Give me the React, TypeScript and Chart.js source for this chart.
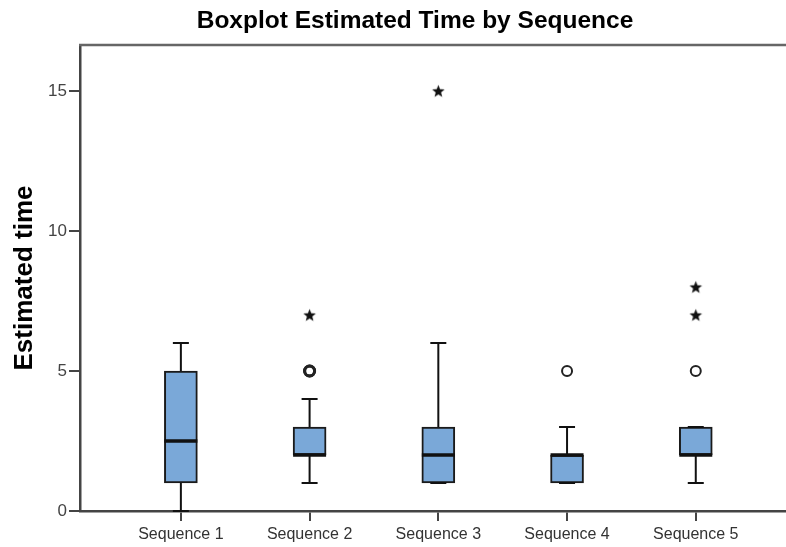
import { useEffect, useRef } from "react";
import { Chart, registerables } from "chart.js";

Chart.register(...registerables);

const categories = ["Sequence 1", "Sequence 2", "Sequence 3", "Sequence 4", "Sequence 5"];
const whiskerLow = [0, 1, 1, 1, 1];
const q1 = [1, 2, 1, 1, 2];
const medians = [2.5, 2, 2, 2, 2];
const q3 = [5, 3, 3, 2, 3];
const whiskerHigh = [6, 4, 6, 3, 3];
const circleOutliers: number[][] = [[], [5, 5], [], [5], [5]];
const starOutliers: number[][] = [[], [7], [15], [], [7, 8]];
const yTicks = [0, 5, 10, 15];
const chartTitle = "Boxplot Estimated Time by Sequence";
const yAxisTitle = "Estimated time";

const FONT = "'Liberation Sans', Arial, sans-serif";
const CANVAS_W = 830;
const CANVAS_H = 547;

function makeStar(): HTMLCanvasElement {
  const c = document.createElement("canvas");
  const s = 15;
  c.width = s;
  c.height = s;
  const ctx = c.getContext("2d")!;
  const cx = s / 2;
  const cy = s / 2 + 0.6;
  const ro = 6.6;
  const ri = 2.8;
  ctx.beginPath();
  for (let i = 0; i < 10; i++) {
    const r = i % 2 === 0 ? ro : ri;
    const a = -Math.PI / 2 + (i * Math.PI) / 5;
    const x = cx + r * Math.cos(a);
    const y = cy + r * Math.sin(a);
    if (i === 0) ctx.moveTo(x, y);
    else ctx.lineTo(x, y);
  }
  ctx.closePath();
  ctx.fillStyle = "#111";
  ctx.fill();
  return c;
}

const boxPlugin = {
  id: "boxWhiskers",
  afterDatasetsDraw(chart: any) {
    const { ctx, scales } = chart;
    const xs = scales.x;
    const ys = scales.y;
    ctx.save();
    ctx.strokeStyle = "#111";
    categories.forEach((_, i) => {
      const x = xs.getPixelForValue(i + 1);
      const capHalf = 8;
      const boxHalf = 16.5;
      ctx.lineWidth = 2;
      ctx.beginPath();
      ctx.moveTo(x, ys.getPixelForValue(q3[i]));
      ctx.lineTo(x, ys.getPixelForValue(whiskerHigh[i]));
      ctx.moveTo(x, ys.getPixelForValue(q1[i]));
      ctx.lineTo(x, ys.getPixelForValue(whiskerLow[i]));
      ctx.stroke();
      ctx.beginPath();
      const yh = ys.getPixelForValue(whiskerHigh[i]);
      const yl = ys.getPixelForValue(whiskerLow[i]);
      ctx.moveTo(x - capHalf, yh);
      ctx.lineTo(x + capHalf, yh);
      ctx.moveTo(x - capHalf, yl);
      ctx.lineTo(x + capHalf, yl);
      ctx.stroke();
      ctx.lineWidth = 3.5;
      ctx.beginPath();
      const ym = ys.getPixelForValue(medians[i]);
      ctx.moveTo(x - boxHalf, ym);
      ctx.lineTo(x + boxHalf, ym);
      ctx.stroke();
    });
    ctx.restore();
  },
  afterDraw(chart: any) {
    const { ctx, chartArea } = chart;
    ctx.save();
    ctx.strokeStyle = "#666";
    ctx.lineWidth = 2.5;
    ctx.beginPath();
    ctx.moveTo(chartArea.left - 1, chartArea.top);
    ctx.lineTo(chartArea.right, chartArea.top);
    ctx.stroke();
    ctx.restore();
  },
};

export default function App() {
  const ref = useRef<HTMLCanvasElement | null>(null);

  useEffect(() => {
    if (!ref.current) return;
    const star = makeStar();
    const circlePts: { x: number; y: number; n: number }[] = [];
    circleOutliers.forEach((arr, i) =>
      arr.forEach((v) => circlePts.push({ x: i + 1, y: v, n: arr.filter((w) => w === v).length }))
    );
    const starPts: { x: number; y: number }[] = [];
    starOutliers.forEach((arr, i) => arr.forEach((v) => starPts.push({ x: i + 1, y: v })));

    const chart = new Chart(ref.current, {
      type: "bar",
      data: {
        datasets: [
          {
            type: "bar",
            data: categories.map((_, i) => ({ x: i + 1, y: [q1[i], q3[i]] })) as any,
            backgroundColor: "#7AA8D8",
            borderColor: "#1a1a1a",
            borderWidth: 2,
            borderSkipped: false,
            barThickness: 33,
          } as any,
          {
            type: "scatter",
            data: circlePts,
            pointStyle: "circle",
            pointRadius: 5,
            pointBorderWidth: (c: any) => (c.raw && c.raw.n > 1 ? 3 : 2),
            pointBorderColor: "#222",
            pointBackgroundColor: "rgba(0,0,0,0)",
          } as any,
          {
            type: "scatter",
            data: starPts,
            pointStyle: star,
            pointRadius: 7,
          } as any,
        ],
      },
      options: {
        responsive: false,
        animation: false,
        layout: { padding: { left: 0, right: 0, top: 0, bottom: 0 } },
        plugins: {
          legend: { display: false },
          tooltip: { enabled: false },
          title: {
            display: true,
            text: chartTitle,
            color: "#000",
            font: { family: FONT, size: 24.5, weight: "bold", lineHeight: 1.2 },
            padding: { top: 6.6, bottom: 9 },
          },
        },
        scales: {
          x: {
            type: "linear",
            offset: false,
            min: 0.2164,
            max: 5.9806,
            afterBuildTicks: (scale: any) => {
              scale.ticks = categories.map((_, i) => ({ value: i + 1 }));
            },
            afterFit: (scale: any) => {
              scale.height = 36;
            },
            ticks: {
              callback: (v: any) => categories[Math.round(Number(v)) - 1] ?? "",
              color: "#333",
              font: { family: FONT, size: 16 },
              padding: 4,
              maxRotation: 0,
              autoSkip: false,
            },
            grid: { offset: false, drawOnChartArea: false, drawTicks: true, tickLength: 10, color: "#444", lineWidth: 2 },
            border: { display: true, color: "#444", width: 2.5 },
          },
          y: {
            type: "linear",
            min: 0,
            max: 16.64,
            afterBuildTicks: (scale: any) => {
              scale.ticks = yTicks.map((v) => ({ value: v }));
            },
            afterFit: (scale: any) => {
              scale.width = 80;
            },
            ticks: {
              color: "#444",
              font: { family: FONT, size: 17 },
              padding: 2,
            },
            grid: { drawOnChartArea: false, drawTicks: true, tickLength: 11, color: "#444", lineWidth: 2 },
            border: { display: true, color: "#444", width: 2.5 },
            title: {
              display: true,
              text: yAxisTitle,
              color: "#000",
              font: { family: FONT, size: 26, weight: "bold", lineHeight: 1.2 },
              padding: { top: 9, bottom: 0 },
            },
          },
        },
      },
      plugins: [boxPlugin],
    });
    return () => chart.destroy();
  }, []);

  return (
    <div style={{ position: "fixed", left: 0, top: 0, width: 786, height: 547, background: "#fff", overflow: "hidden" }}>
      <canvas ref={ref} width={CANVAS_W} height={CANVAS_H} style={{ display: "block" }} />
    </div>
  );
}
